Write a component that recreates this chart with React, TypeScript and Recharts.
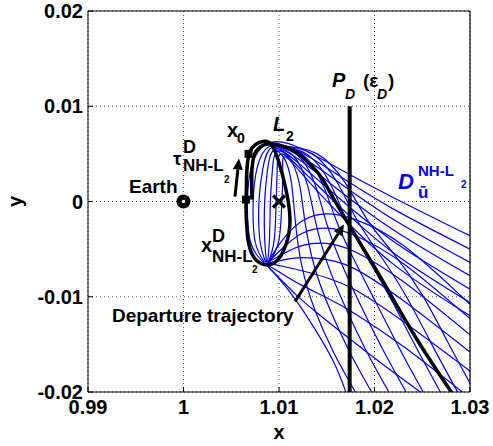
import {
  CartesianGrid,
  ComposedChart,
  Line,
  ReferenceDot,
  ReferenceLine,
  Scatter,
  XAxis,
  YAxis,
} from 'recharts'

const FONT = 'Arial, "Liberation Sans", Helvetica, sans-serif'
const BLUE = '#0000ff'

type Pt = [number, number]

const xTicks = [0.99, 1, 1.01, 1.02, 1.03]
const yTicks = [-0.02, -0.01, 0, 0.01, 0.02]

// halo orbit around L2 (closed loop, clockwise)
const haloOrbit: Pt[] = [
  [1.00654, -0.0008], [1.0066, 0.0023], [1.00696, 0.00525], [1.00832, 0.0063],
  [1.00927, 0.00588], [1.01, 0.0041], [1.01073, 0.00126], [1.01115, -0.00189],
  [1.01073, -0.00451], [1.00969, -0.0063], [1.00843, -0.00661], [1.00738, -0.00588],
  [1.00675, -0.004], [1.00654, -0.0008],
]

const departurePath: Pt[] = [
  [1.00717, 0.0002], [1.00717, 0.00336], [1.00759, 0.00525], [1.00853, 0.00598],
  [1.00979, 0.00598], [1.01168, 0.00525], [1.01293, 0.0042], [1.01429, 0.00273],
  [1.01565, 0.00042], [1.01743, -0.00262], [1.02058, -0.00787], [1.02445, -0.01449],
  [1.02822, -0.02026],
]

const sectionLine: Pt[] = [[1.0174, 0.01], [1.0174, -0.02]]

// manifold trajectories, arcs inside the halo leaving over the top
const innerArcs: Pt[][] = [
  [[1.0084, -0.0064], [1.007, -0.0042], [1.0067, 0], [1.0071, 0.0036], [1.0086, 0.006], [1.0115, 0.0059], [1.016, 0.0036], [1.022, 0.0004], [1.03, -0.0036]],
  [[1.0085, -0.0064], [1.0075, -0.0042], [1.0073, 0], [1.0077, 0.0035], [1.009, 0.0058], [1.0118, 0.0054], [1.016, 0.0029], [1.022, -0.0008], [1.03, -0.005]],
  [[1.0086, -0.0064], [1.008, -0.0041], [1.0079, 0], [1.0083, 0.0034], [1.0093, 0.0057], [1.012, 0.0049], [1.016, 0.0022], [1.022, -0.0019], [1.03, -0.0064]],
  [[1.0087, -0.0064], [1.0085, -0.004], [1.0085, 0], [1.0088, 0.0033], [1.0096, 0.0055], [1.0121, 0.0044], [1.016, 0.0014], [1.022, -0.003], [1.03, -0.0078]],
  [[1.0088, -0.0064], [1.009, -0.004], [1.0091, 0], [1.0093, 0.0032], [1.0099, 0.0053], [1.0122, 0.0039], [1.016, 0.0006], [1.022, -0.0042], [1.03, -0.0092]],
  [[1.0089, -0.0064], [1.0095, -0.004], [1.0097, 0], [1.0098, 0.0031], [1.0102, 0.005], [1.0123, 0.0034], [1.016, -0.0002], [1.022, -0.0054], [1.03, -0.0106]],
  [[1.009, -0.0064], [1.01, -0.004], [1.0103, 0], [1.0104, 0.003], [1.0106, 0.0047], [1.0125, 0.0028], [1.016, -0.001], [1.022, -0.0066], [1.03, -0.012]],
]

// trajectories diving down to the lower edge
const steepPaths: Pt[][] = [
  [[1.0092, 0.0058], [1.0105, 0.0046], [1.0113, 0.002], [1.0117, -0.002], [1.0124, -0.0068], [1.0138, -0.0115], [1.0158, -0.016], [1.018, -0.02]],
  [[1.0094, 0.0058], [1.011, 0.0047], [1.0121, 0.002], [1.0127, -0.002], [1.0137, -0.0068], [1.0154, -0.0115], [1.0175, -0.016], [1.0197, -0.02]],
  [[1.0096, 0.0058], [1.0115, 0.0048], [1.0129, 0.002], [1.0138, -0.002], [1.0151, -0.0066], [1.017, -0.0112], [1.0192, -0.0158], [1.0215, -0.02]],
  [[1.0098, 0.0058], [1.012, 0.0048], [1.0137, 0.002], [1.0149, -0.002], [1.0165, -0.0064], [1.0186, -0.011], [1.0209, -0.0156], [1.0233, -0.02]],
  [[1.01, 0.0058], [1.0125, 0.0049], [1.0145, 0.002], [1.016, -0.002], [1.0179, -0.0062], [1.0202, -0.0107], [1.0226, -0.0154], [1.0251, -0.02]],
  [[1.0102, 0.0058], [1.013, 0.0049], [1.0153, 0.002], [1.0171, -0.002], [1.0193, -0.006], [1.0218, -0.0104], [1.0243, -0.0152], [1.0269, -0.02]],
  [[1.0104, 0.0058], [1.0135, 0.005], [1.0161, 0.002], [1.0182, -0.002], [1.0207, -0.0058], [1.0234, -0.0101], [1.026, -0.015], [1.0287, -0.02]],
  [[1.0106, 0.0058], [1.014, 0.005], [1.0169, 0.002], [1.0193, -0.002], [1.0221, -0.0056], [1.025, -0.0098], [1.0277, -0.0148], [1.0305, -0.02]],
]

// fan leaving from the bottom of the halo
const fanPaths: Pt[][] = [
  [[1.0088, -0.0064], [1.0104, -0.004], [1.0125, -0.002], [1.015, -0.0013], [1.018, -0.0019], [1.023, -0.0046], [1.03, -0.0108]],
  [[1.0088, -0.0064], [1.0106, -0.0047], [1.0125, -0.0033], [1.015, -0.0028], [1.018, -0.0036], [1.023, -0.0065], [1.03, -0.0123]],
  [[1.0088, -0.0064], [1.0106, -0.0054], [1.0125, -0.0046], [1.015, -0.0044], [1.018, -0.0053], [1.023, -0.0084], [1.03, -0.014]],
  [[1.0088, -0.0065], [1.0106, -0.0061], [1.0125, -0.0059], [1.015, -0.0061], [1.018, -0.0071], [1.023, -0.0104], [1.03, -0.0158]],
  [[1.0087, -0.0065], [1.0104, -0.0068], [1.0125, -0.0073], [1.015, -0.008], [1.018, -0.0093], [1.023, -0.0126], [1.03, -0.0178]],
  [[1.0087, -0.0066], [1.0102, -0.0075], [1.0122, -0.0087], [1.015, -0.0101], [1.018, -0.0118], [1.023, -0.0152], [1.0292, -0.02]],
  [[1.0086, -0.0066], [1.01, -0.008], [1.0118, -0.0098], [1.014, -0.0117], [1.017, -0.0141], [1.021, -0.0172], [1.0248, -0.02]],
  [[1.0086, -0.0066], [1.01, -0.0081], [1.0118, -0.0104], [1.0137, -0.0133], [1.0157, -0.0168], [1.017, -0.02]],
]

const earthPoint = [{ x: 1, y: 0 }]
const l2Point = [{ x: 1.01, y: 0 }]
const patchPoints = [{ x: 1.00681, y: 0.005 }, { x: 1.00654, y: 0.0002 }]

const rows = (pts: Pt[]) => pts.map(([x, y]) => ({ x, y }))

const bold = { fontFamily: FONT, fontWeight: 700, fill: '#000' }

const Txt = ({ x, y, size = 19, italic = false, color = '#000', children }: any) => (
  <text x={x} y={y} fontSize={size} fontStyle={italic ? 'italic' : 'normal'} style={{ ...bold, fill: color }}>
    {children}
  </text>
)

const EarthShape = ({ cx, cy }: any) => (
  <g>
    <circle cx={cx} cy={cy} r={7} fill="#000" />
    <circle cx={cx} cy={cy} r={1.8} fill="#fff" />
  </g>
)

const CrossShape = ({ cx, cy }: any) => (
  <g stroke="#000" strokeWidth={3.2}>
    <line x1={cx - 6} y1={cy - 6} x2={cx + 6} y2={cy + 6} />
    <line x1={cx - 6} y1={cy + 6} x2={cx + 6} y2={cy - 6} />
  </g>
)

const SquareShape = ({ cx, cy }: any) => <rect x={cx - 4} y={cy - 4} width={8} height={8} fill="#000" />

const Arrow = (p: any) => {
  const { x1, y1, x2, y2 } = p
  const len = Math.hypot(x2 - x1, y2 - y1) || 1
  const ux = (x2 - x1) / len
  const uy = (y2 - y1) / len
  const bx = x2 - ux * 11
  const by = y2 - uy * 11
  return (
    <g>
      <line x1={x1} y1={y1} x2={bx} y2={by} stroke="#000" strokeWidth={3} />
      <polygon points={`${x2},${y2} ${bx - uy * 5},${by + ux * 5} ${bx + uy * 5},${by - ux * 5}`} fill="#000" />
    </g>
  )
}

const YLabel = ({ viewBox }: any) => {
  const x = viewBox.x + 15
  const y = viewBox.y + viewBox.height / 2
  return (
    <text x={x} y={y} transform={`rotate(-90 ${x} ${y})`} textAnchor="middle" dominantBaseline="central" fontSize={20} style={bold}>
      y
    </text>
  )
}

const tickStyle = { fill: '#000', fontSize: 20, fontWeight: 700, fontFamily: FONT }

export default function App() {
  return (
    <div style={{ position: 'absolute', left: 0, top: 0 }}>
      <ComposedChart width={493} height={446} margin={{ top: 11, right: 23, bottom: 0, left: 0 }}>
        <CartesianGrid stroke="#555" strokeDasharray="1 3" />
        <XAxis
          type="number"
          dataKey="x"
          domain={[0.99, 1.03]}
          ticks={xTicks}
          interval={0}
          allowDataOverflow
          height={54}
          tickSize={-5}
          tickMargin={13}
          tick={tickStyle}
          stroke="#000"
          label={{ value: 'x', position: 'insideBottom', offset: 7, fill: '#000', fontSize: 20, fontWeight: 700, fontFamily: FONT }}
        />
        <XAxis xAxisId="top" orientation="top" type="number" domain={[0.99, 1.03]} ticks={xTicks} height={0} tickSize={-5} tick={false} stroke="#000" />
        <YAxis
          type="number"
          dataKey="y"
          domain={[-0.02, 0.02]}
          ticks={yTicks}
          interval={0}
          allowDataOverflow
          width={88}
          tickSize={-5}
          tickMargin={10}
          tick={tickStyle}
          stroke="#000"
          label={{ content: YLabel }}
        />
        <YAxis yAxisId="right" orientation="right" type="number" domain={[-0.02, 0.02]} ticks={yTicks} width={0} tickSize={-5} tick={false} stroke="#000" />

        {[...innerArcs, ...steepPaths, ...fanPaths].map((path, i) => (
          <Line
            key={`m${i}`}
            data={rows(path)}
            dataKey="y"
            type="natural"
            stroke={BLUE}
            strokeWidth={1.2}
            dot={false}
            activeDot={false}
            legendType="none"
            isAnimationActive={false}
          />
        ))}

        <Line data={rows(haloOrbit)} dataKey="y" type="natural" stroke="#000" strokeWidth={3.5} dot={false} activeDot={false} isAnimationActive={false} />
        <Line data={rows(departurePath)} dataKey="y" type="natural" stroke="#000" strokeWidth={3.5} dot={false} activeDot={false} isAnimationActive={false} />
        <Line data={rows(sectionLine)} dataKey="y" type="linear" stroke="#000" strokeWidth={4} dot={false} activeDot={false} isAnimationActive={false} />

        {/* box edges */}
        <ReferenceLine x={1.03} stroke="#000" strokeWidth={1.2} />
        <ReferenceLine y={0.02} stroke="#000" strokeWidth={1.2} />

        <Scatter data={earthPoint} shape={EarthShape} isAnimationActive={false} />
        <Scatter data={l2Point} shape={CrossShape} isAnimationActive={false} />
        <Scatter data={patchPoints} shape={SquareShape} isAnimationActive={false} />

        <ReferenceLine segment={[{ x: 1.00539, y: 0.00052 }, { x: 1.00581, y: 0.00451 }]} shape={Arrow} ifOverflow="visible" />
        <ReferenceLine segment={[{ x: 1.01168, y: -0.0105 }, { x: 1.01681, y: -0.00241 }]} shape={Arrow} ifOverflow="visible" />

        <ReferenceDot x={0.99429} y={0.00094} r={1} ifOverflow="visible" shape={({ cx, cy }: any) => <Txt x={cx} y={cy}>Earth</Txt>} />
        <ReferenceDot x={0.99251} y={-0.0126} r={1} ifOverflow="visible" shape={({ cx, cy }: any) => <Txt x={cx} y={cy}>Departure trajectory</Txt>} />
        <ReferenceDot
          x={1.00937}
          y={0.00735}
          r={1}
          ifOverflow="visible"
          shape={({ cx, cy }: any) => (
            <g>
              <Txt x={cx} y={cy} size={20} italic>L</Txt>
              <Txt x={cx + 13} y={cy + 10} size={14}>2</Txt>
            </g>
          )}
        />
        <ReferenceDot
          x={1.00456}
          y={0.00672}
          r={1}
          ifOverflow="visible"
          shape={({ cx, cy }: any) => (
            <g>
              <Txt x={cx} y={cy} size={20}>x</Txt>
              <Txt x={cx + 10} y={cy + 6} size={14}>0</Txt>
            </g>
          )}
        />
        <ReferenceDot
          x={0.9989}
          y={0.00388}
          r={1}
          ifOverflow="visible"
          shape={({ cx, cy }: any) => (
            <g>
              <Txt x={cx} y={cy} size={19}>τ</Txt>
              <Txt x={cx + 10} y={cy - 12} size={18}>D</Txt>
              <Txt x={cx + 10} y={cy + 6} size={17}>NH-L</Txt>
              <Txt x={cx + 51} y={cy + 18} size={10}>2</Txt>
            </g>
          )}
        />
        <ReferenceDot
          x={1.00183}
          y={-0.00535}
          r={1}
          ifOverflow="visible"
          shape={({ cx, cy }: any) => (
            <g>
              <Txt x={cx} y={cy} size={20}>x</Txt>
              <Txt x={cx + 11} y={cy - 10} size={18}>D</Txt>
              <Txt x={cx + 11} y={cy + 10} size={17}>NH-L</Txt>
              <Txt x={cx + 51} y={cy + 21} size={10}>2</Txt>
            </g>
          )}
        />
        <ReferenceDot
          x={1.01555}
          y={0.01197}
          r={1}
          ifOverflow="visible"
          shape={({ cx, cy }: any) => (
            <g>
              <Txt x={cx} y={cy} size={20} italic>P</Txt>
              <Txt x={cx + 13} y={cy + 12} size={14} italic>D</Txt>
              <Txt x={cx + 31} y={cy} size={19}>(ε</Txt>
              <Txt x={cx + 45} y={cy + 12} size={14} italic>D</Txt>
              <Txt x={cx + 56} y={cy} size={19}>)</Txt>
            </g>
          )}
        />
        <ReferenceDot
          x={1.02246}
          y={0.00126}
          r={1}
          ifOverflow="visible"
          shape={({ cx, cy }: any) => (
            <g>
              <Txt x={cx} y={cy} size={22} italic color={BLUE}>D</Txt>
              <Txt x={cx + 20} y={cy - 13} size={15} color={BLUE}>NH-L</Txt>
              <Txt x={cx + 63} y={cy - 1} size={10} color={BLUE}>2</Txt>
              <Txt x={cx + 20} y={cy + 9} size={17} color={BLUE}>ū</Txt>
            </g>
          )}
        />
      </ComposedChart>
    </div>
  )
}
